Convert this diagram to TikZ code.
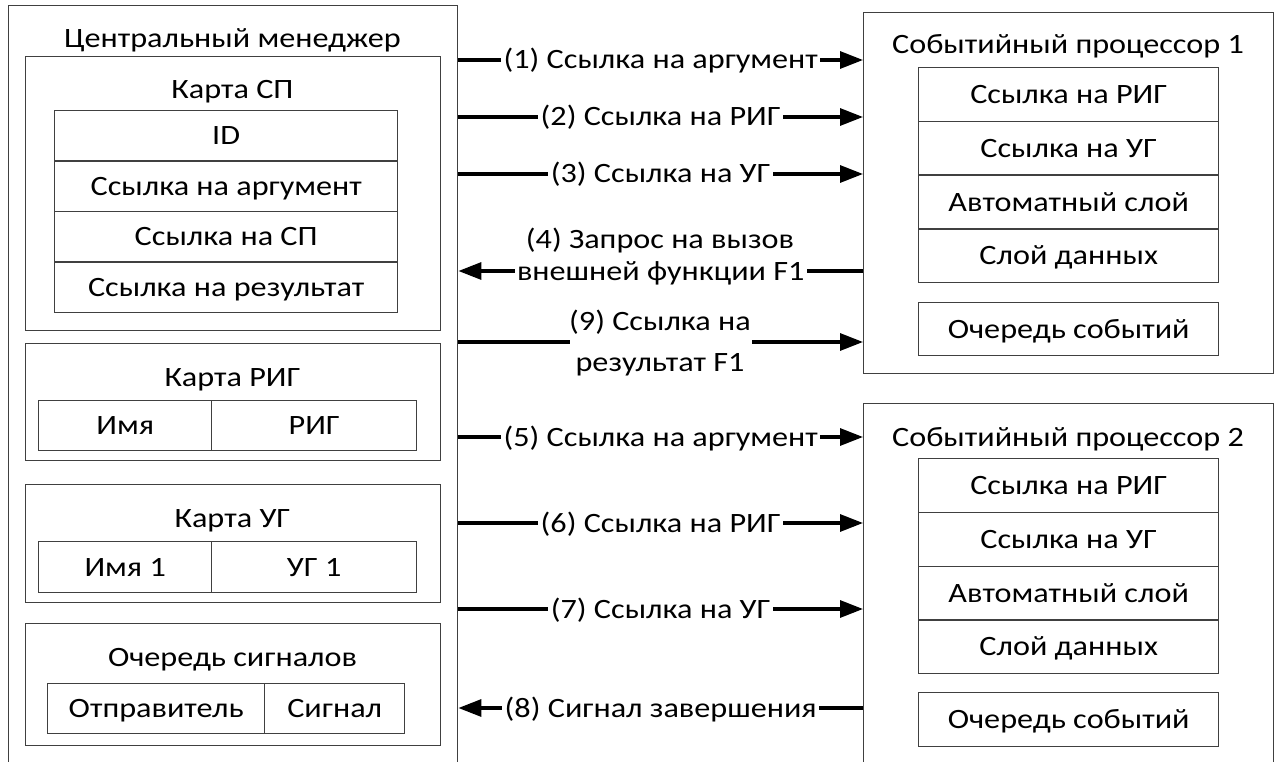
\documentclass[tikz,border=0pt]{standalone}
\usepackage{fontspec}
\setmainfont{Carlito}[FakeStretch=1.15]
\usetikzlibrary{arrows.meta}
\definecolor{boxgray}{HTML}{404040}
\newcommand\fs{\fontsize{28}{33}\selectfont}
\begin{document}
\begin{tikzpicture}[x=1pt,y=-1pt,
  frame/.style={draw=boxgray, line width=1.4pt, inner sep=0pt, anchor=north west},
  cell/.style={frame, font=\fs, text height=18pt, text depth=0pt},
  txt/.style={font=\fs, text height=18pt, text depth=0pt, inner sep=0pt},
  arr/.style={line width=3.2pt, -{Triangle[length=23pt,width=17pt]}},
  lbl/.style={txt, fill=white, inner xsep=2.5pt, inner ysep=4pt}]
\useasboundingbox (0,0) rectangle (1280,762);
\clip (0,0) rectangle (1280,762);
\fill[white] (0,0) rectangle (1280,762);

% Central manager
\node[frame, minimum width=449pt, minimum height=800pt] (cm) at (8,5) {};
\node[txt] (cmT) at (232.5,38.5) {Центральный менеджер};

% Karta SP
\node[frame, minimum width=415pt, minimum height=274pt] (ksp) at (25,56) {};
\node[txt] (kspT) at (232.5,90) {Карта СП};
\node[cell, minimum width=343pt, minimum height=50.5pt] (k1) at (54,110) {ID};
\node[cell, minimum width=343pt, minimum height=50.5pt] (k2) at (54,160.5) {Ссылка на аргумент};
\node[cell, minimum width=343pt, minimum height=50.5pt] (k3) at (54,211) {Ссылка на СП};
\node[cell, minimum width=343pt, minimum height=50.5pt] (k4) at (54,261.5) {Ссылка на результат};

% Karta RIG
\node[frame, minimum width=415pt, minimum height=117pt] (krig) at (25,343) {};
\node[txt] (krigT) at (232.5,377) {Карта РИГ};
\node[cell, minimum width=173pt, minimum height=50pt] (r1) at (38,400) {Имя};
\node[cell, minimum width=205pt, minimum height=50pt] (r2) at (211,400) {РИГ};

% Karta UG
\node[frame, minimum width=415pt, minimum height=118pt] (kug) at (25,484) {};
\node[txt] (kugT) at (232.5,518) {Карта УГ};
\node[cell, minimum width=173pt, minimum height=51pt] (u1) at (38,541) {Имя 1};
\node[cell, minimum width=205pt, minimum height=51pt] (u2) at (211,541) {УГ 1};

% Signal queue
\node[frame, minimum width=415pt, minimum height=122pt] (sq) at (25,623) {};
\node[txt] (sqT) at (232.5,657) {Очередь сигналов};
\node[cell, minimum width=217pt, minimum height=50pt] (s1) at (47,683) {Отправитель};
\node[cell, minimum width=140pt, minimum height=50pt] (s2) at (264,683) {Сигнал};

% Event processor 1
\node[frame, minimum width=410pt, minimum height=361pt] (sp1) at (863,12) {};
\node[txt] (sp1T) at (1068,45) {Событийный процессор 1};
\node[cell, minimum width=300pt, minimum height=53.75pt] (a1) at (918,67) {Ссылка на РИГ};
\node[cell, minimum width=300pt, minimum height=53.75pt] (a2) at (918,120.75) {Ссылка на УГ};
\node[cell, minimum width=300pt, minimum height=53.75pt] (a3) at (918,174.5) {Автоматный слой};
\node[cell, minimum width=300pt, minimum height=53.75pt] (a4) at (918,228.25) {Слой данных};
\node[cell, minimum width=300pt, minimum height=53pt] (a5) at (918,302) {Очередь событий};

% Event processor 2
\node[frame, minimum width=410pt, minimum height=400pt] (sp2) at (863,403) {};
\node[txt] (sp2T) at (1068,437) {Событийный процессор 2};
\node[cell, minimum width=300pt, minimum height=53.75pt] (b1) at (918,458) {Ссылка на РИГ};
\node[cell, minimum width=300pt, minimum height=53.75pt] (b2) at (918,511.75) {Ссылка на УГ};
\node[cell, minimum width=300pt, minimum height=53.75pt] (b3) at (918,565.5) {Автоматный слой};
\node[cell, minimum width=300pt, minimum height=53.75pt] (b4) at (918,619.25) {Слой данных};
\node[cell, minimum width=300pt, minimum height=54pt] (b5) at (918,692) {Очередь событий};

% Arrows
\draw[arr] (cm.east |- 0,60) -- node[lbl]{(1) Ссылка на аргумент} (sp1.west |- 0,60);
\draw[arr] (cm.east |- 0,117) -- node[lbl]{(2) Ссылка на РИГ} (sp1.west |- 0,117);
\draw[arr] (cm.east |- 0,174) -- node[lbl]{(3) Ссылка на УГ} (sp1.west |- 0,174);
\draw[arr] (sp1.west |- 0,271) -- node[lbl]{внешней функции F1} (cm.east |- 0,271);
\node[txt] (l4a) at (660,240) {(4) Запрос на вызов};
\draw[arr] (cm.east |- 0,342) -- node[fill=white, inner sep=0pt, minimum width=182pt, minimum height=8pt]{} (sp1.west |- 0,342);
\node[txt] (l9a) at (660,321) {(9) Ссылка на};
\node[txt] (l9b) at (660,362) {результат F1};
\draw[arr] (cm.east |- 0,437) -- node[lbl]{(5) Ссылка на аргумент} (sp2.west |- 0,437);
\draw[arr] (cm.east |- 0,523) -- node[lbl]{(6) Ссылка на РИГ} (sp2.west |- 0,523);
\draw[arr] (cm.east |- 0,609) -- node[lbl]{(7) Ссылка на УГ} (sp2.west |- 0,609);
\draw[arr] (sp2.west |- 0,708) -- node[lbl]{(8) Сигнал завершения} (cm.east |- 0,708);
\end{tikzpicture}
\end{document}
